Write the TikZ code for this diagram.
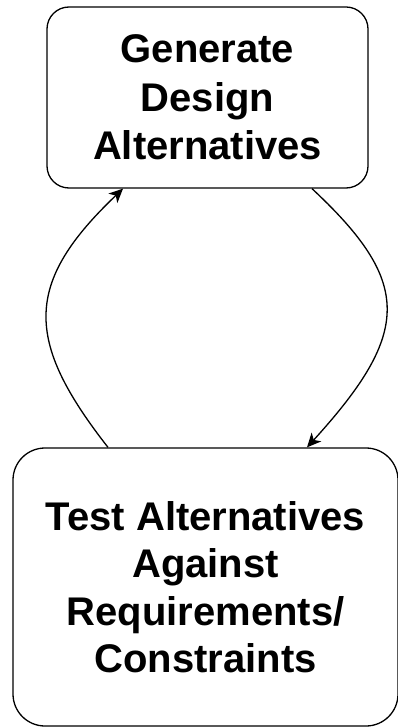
\documentclass[tikz,border=0pt]{standalone}
\usepackage{fontspec}
\setmainfont{Liberation Sans}
\usetikzlibrary{arrows.meta}
\begin{document}
\begin{tikzpicture}[x=1pt,y=-1pt,
  stagebox/.style={draw=black, line width=1.3pt, fill=white, inner sep=0pt,
    align=center, font=\bfseries\fontsize{40}{48.5}\selectfont},
  flow/.style={draw=black, line width=1.3pt,
    -{Stealth[length=14pt,width=13pt,inset=4pt]}}]
  \useasboundingbox (0,0) rectangle (398,727);

  % process stages
  \node[stagebox, rounded corners=22pt, minimum width=321pt, minimum height=181pt]
    (gen) at (207.5,97.5) {Generate\\Design\\Alternatives};
  \node[stagebox, rounded corners=32pt, minimum width=385pt, minimum height=278pt,
    font=\bfseries\fontsize{40}{47.5}\selectfont]
    (test) at (205.5,587) {Test Alternatives\\Against\\Requirements/\\Constraints};

  % feedback loop between the stages
  \draw[flow] ([xshift=-97.5pt]test.north) .. controls (24,340) and (24,283) .. ([xshift=-84.5pt]gen.south);
  \draw[flow] ([xshift=104.5pt]gen.south) .. controls (412,282) and (412,332) .. ([xshift=101.5pt]test.north);
\end{tikzpicture}
\end{document}
